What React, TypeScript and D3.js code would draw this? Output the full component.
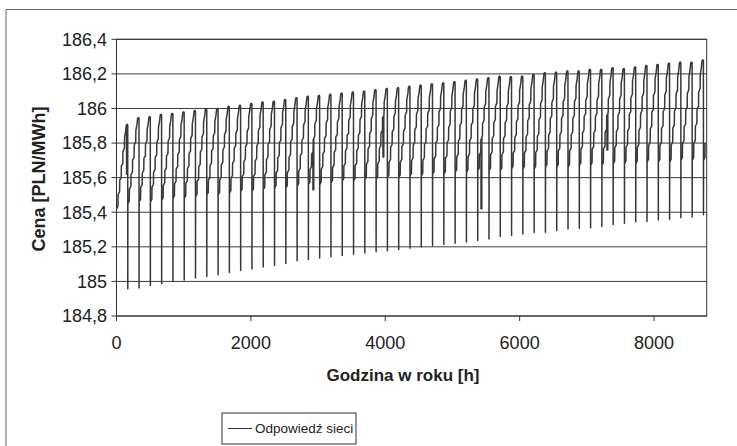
import React from "react";
import * as d3 from "d3";

// Hourly network price response over one year, built week by week.
const HOURS_PER_WEEK = 168;
const LAST_HOUR = 8760;

// Price right after the Sunday drop (week 0 starts without a drop).
const weekLow = [
  185.42, 184.957, 184.962, 184.976, 184.986, 185.0, 185.008, 185.02, 185.028, 185.038,
  185.051, 185.063, 185.072, 185.084, 185.092, 185.104, 185.119, 185.127, 185.135, 185.142,
  185.15, 185.157, 185.164, 185.171, 185.178, 185.185, 185.192, 185.199, 185.206, 185.213,
  185.22, 185.228, 185.236, 185.245, 185.26, 185.265, 185.274, 185.283, 185.285, 185.294,
  185.303, 185.308, 185.31, 185.318, 185.329, 185.337, 185.345, 185.347, 185.355, 185.36,
  185.368, 185.372, 185.386,
];

// Level at which the weekly ramp starts.
const weekBase = [
  185.42, 185.45, 185.46, 185.46, 185.47, 185.48, 185.48, 185.49, 185.5, 185.5,
  185.51, 185.52, 185.52, 185.53, 185.54, 185.54, 185.55, 185.56, 185.56, 185.57,
  185.58, 185.58, 185.59, 185.59, 185.6, 185.6, 185.61, 185.61, 185.62, 185.62,
  185.63, 185.63, 185.64, 185.64, 185.64, 185.65, 185.65, 185.65, 185.66, 185.66,
  185.66, 185.67, 185.67, 185.67, 185.68, 185.68, 185.68, 185.69, 185.69, 185.69,
  185.7, 185.7, 185.7,
];

// Weekly maximum reached just before the Sunday drop.
const weekPeak = [
  185.907, 185.946, 185.952, 185.965, 185.971, 185.979, 185.988, 185.998, 186.0, 186.013,
  186.019, 186.029, 186.037, 186.042, 186.052, 186.062, 186.07, 186.075, 186.082, 186.088,
  186.095, 186.1, 186.108, 186.115, 186.12, 186.128, 186.135, 186.142, 186.148, 186.155,
  186.163, 186.17, 186.178, 186.187, 186.184, 186.187, 186.197, 186.207, 186.21, 186.216,
  186.216, 186.226, 186.226, 186.236, 186.23, 186.24, 186.249, 186.255, 186.261, 186.268,
  186.268, 186.28, 186.29,
];

// Shape of a week: [hour in week, share of the way from base to peak].
const weekProfile: [number, number][] = [
  [1, 0], [22, 0.03], [24, 0.17], [46, 0.2], [48, 0.34], [70, 0.37], [72, 0.51],
  [94, 0.54], [96, 0.68], [118, 0.72], [120, 0.85], [136, 0.92], [146, 0.99],
  [152, 1], [164, 1], [167, 0.99],
];

// Holiday dips: [hour of year, price, duration in hours].
const holidayDips: [number, number, number][] = [
  [150, 185.62, 8],
  [2924, 185.53, 12],
  [3966, 185.72, 12],
  [5425, 185.42, 12],
  [7300, 185.76, 12],
];

const yTicks = [184.8, 185, 185.2, 185.4, 185.6, 185.8, 186, 186.2, 186.4];
const xTicks = [0, 2000, 4000, 6000, 8000];

const yTitle = "Cena [PLN/MWh]";
const xTitle = "Godzina w roku [h]";
const seriesName = "Odpowiedź sieci";

function weekValue(k: number, h: number): number {
  const base = weekBase[k];
  const peak = weekPeak[k];
  let f = weekProfile[0][1];
  for (let i = 0; i < weekProfile.length - 1; i++) {
    const [h0, f0] = weekProfile[i];
    const [h1, f1] = weekProfile[i + 1];
    if (h >= h0 && h <= h1) {
      f = f0 + ((h - h0) / (h1 - h0)) * (f1 - f0);
      break;
    }
    if (h > h1) f = f1;
  }
  return base + f * (peak - base);
}

function buildSeries(): [number, number][] {
  const pts: [number, number][] = [];
  for (let k = 0; k < weekLow.length; k++) {
    const start = k * HOURS_PER_WEEK;
    if (start > LAST_HOUR) break;
    pts.push([start, weekLow[k]]);
    const inWeek: [number, number][] = weekProfile.map(([h]) => [h, weekValue(k, h)]);
    holidayDips.forEach(([hour, v, dur]) => {
      const h = hour - start;
      if (h > 1 && h + dur + 1 < HOURS_PER_WEEK) {
        inWeek.push([h - 0.5, weekValue(k, h - 0.5)]);
        inWeek.push([h, v]);
        inWeek.push([h + dur, v]);
        inWeek.push([h + dur + 0.5, weekValue(k, h + dur + 0.5)]);
      }
    });
    inWeek.sort((a, b) => a[0] - b[0]);
    for (const [h, v] of inWeek) {
      const t = start + h;
      if (t > LAST_HOUR) {
        pts.push([LAST_HOUR, weekValue(k, LAST_HOUR - start)]);
        return pts;
      }
      pts.push([t, v]);
    }
  }
  return pts;
}

const fmt = (v: number) => String(+v.toFixed(1)).replace(".", ",");

export default function App() {
  const width = 737;
  const height = 446;
  const x = d3.scaleLinear().domain([0, 8784]).range([116.5, 706.7]);
  const y = d3.scaleLinear().domain([184.8, 186.4]).range([316, 39.3]);
  const data = buildSeries();
  const line = d3
    .line<[number, number]>()
    .x((d) => x(d[0]))
    .y((d) => y(d[1]));

  const font = "'Liberation Sans', Arial, sans-serif";
  const [x0, x1] = x.range();
  const [yb, yt] = y.range();

  return (
    <svg
      width={width}
      height={height}
      style={{ position: "absolute", left: 0, top: 0, background: "#fff" }}
      fontFamily={font}
    >
      {/* outer chart frame */}
      <path d={`M6,${height} V9.5 H${width}`} fill="none" stroke="#666" strokeWidth={1} />

      {/* horizontal gridlines */}
      {yTicks.map((t) => (
        <line key={t} x1={x0} x2={x1} y1={y(t)} y2={y(t)} stroke="#3c3c3c" strokeWidth={1} />
      ))}

      {/* series */}
      <path
        d={line(data) || ""}
        fill="none"
        stroke="#383838"
        strokeWidth={1.5}
        strokeLinejoin="round"
      />

      {/* plot frame */}
      <rect x={x0} y={yt} width={x1 - x0} height={yb - yt} fill="none" stroke="#333" strokeWidth={1} />

      {/* y axis */}
      {yTicks.map((t) => (
        <g key={t}>
          <line x1={x0 - 5} x2={x0} y1={y(t)} y2={y(t)} stroke="#333" />
          <text x={107} y={y(t)} dy="0.35em" textAnchor="end" fontSize={18} fill="#222">
            {fmt(t)}
          </text>
        </g>
      ))}

      {/* x axis */}
      {xTicks.map((t) => (
        <g key={t}>
          <line x1={x(t)} x2={x(t)} y1={yb} y2={yb + 5} stroke="#333" />
          <text x={x(t)} y={349} textAnchor="middle" fontSize={18} fill="#222">
            {t}
          </text>
        </g>
      ))}

      <text x={403} y={381} textAnchor="middle" fontSize={17} fontWeight="bold" fill="#222">
        {xTitle}
      </text>
      <text
        transform={`translate(45, 179) rotate(-90)`}
        textAnchor="middle"
        fontSize={18}
        fontWeight="bold"
        fill="#222"
      >
        {yTitle}
      </text>

      {/* legend */}
      <rect x={222} y={413} width={134} height={31} fill="#fff" stroke="#333" />
      <line x1={228} x2={252} y1={428.5} y2={428.5} stroke="#333" strokeWidth={1} />
      <text x={255} y={433} fontSize={13.5} fill="#222">
        {seriesName}
      </text>
    </svg>
  );
}
